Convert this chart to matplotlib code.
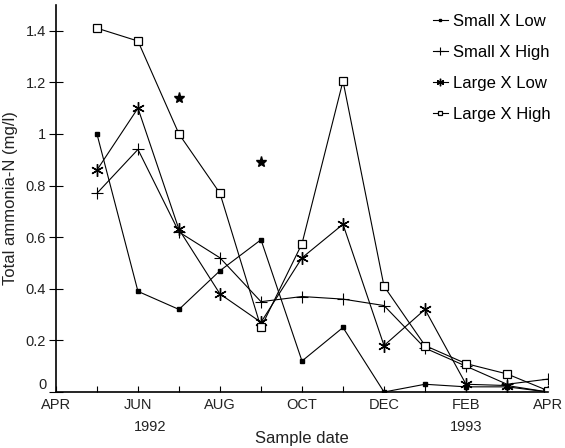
import numpy as np
import matplotlib
matplotlib.use("Agg")
import matplotlib.pyplot as plt

plt.rcParams['font.family'] = ['Liberation Sans', 'DejaVu Sans']

# months since April 1992 (May 1992 = 1 ... April 1993 = 12)
months = np.arange(1, 13)
month_labels = ["APR", "", "JUN", "", "AUG", "", "OCT", "", "DEC", "", "FEB", "", "APR"]

small_low = [1.0, 0.39, 0.32, 0.47, 0.59, 0.12, 0.25, 0.0, 0.03, 0.02, 0.02, 0.0]
small_high = [0.77, 0.94, 0.62, 0.52, 0.35, 0.37, 0.36, 0.335, 0.17, 0.10, 0.03, 0.05]
large_low = [0.86, 1.10, 0.63, 0.38, 0.27, 0.52, 0.65, 0.18, 0.32, 0.03, 0.025, 0.0]
large_high = [1.41, 1.36, 1.0, 0.77, 0.25, 0.575, 1.205, 0.41, 0.18, 0.11, 0.07, 0.005]

# significance stars
star_x = [3, 5]
star_y = [1.14, 0.89]

ytick_vals = [0, 0.2, 0.4, 0.6, 0.8, 1.0, 1.2, 1.4]
ytick_labels = ["0", "0.2", "0.4", "0.6", "0.8", "1", "1.2", "1.4"]


def draw_chart():
    fig = plt.figure(figsize=(5.65, 4.48), dpi=100)
    ax = fig.add_axes([0.099, 0.125, 0.871, 0.864])

    lw = 0.8
    ax.plot(months, small_low, color='black', lw=lw, marker='s', ms=3,
            mfc='black', label='Small X Low')
    ax.plot(months, small_high, color='black', lw=lw, marker='+', ms=9,
            mew=0.8, label='Small X High')
    ax.plot(months, large_low, color='black', lw=lw, marker=(6, 2, 0), ms=9,
            mew=1.0, label='Large X Low')
    ax.plot(months, large_high, color='black', lw=lw, marker='s', ms=6,
            mfc='white', mew=0.9, label='Large X High')
    ax.plot(star_x, star_y, ls='none', marker='*', ms=8, color='black')

    ax.set_xlim(0, 12)
    ax.set_ylim(0, 1.5)
    ax.set_xticks(np.arange(13))
    ax.set_xticklabels(month_labels, fontsize=10.5, color='#222222')
    ax.set_yticks(ytick_vals)
    ax.set_yticklabels(ytick_labels, fontsize=10.5, color='#222222')
    ax.get_yticklabels()[0].set_va('bottom')
    ax.tick_params(axis='x', direction='in', length=4, width=0.8, pad=4)
    ax.tick_params(axis='y', direction='inout', length=10, width=0.8, pad=2)

    for side in ['top', 'right']:
        ax.spines[side].set_visible(False)
    ax.spines['left'].set_linewidth(1.2)
    ax.spines['bottom'].set_linewidth(1.2)

    ax.set_ylabel("Total ammonia-N (mg/l)", fontsize=12, color='#222222', labelpad=6)
    ax.set_xlabel("Sample date", fontsize=12, color='#222222', labelpad=14)
    ax.text(2.3, -0.135, "1992", ha='center', va='center',
            fontsize=10.5, color='#222222', clip_on=False)
    ax.text(10.0, -0.135, "1993", ha='center', va='center',
            fontsize=10.5, color='#222222', clip_on=False)

    ax.legend(loc='upper right', bbox_to_anchor=(1.035, 1.015), frameon=False,
              fontsize=12, handlelength=0.9, handletextpad=0.3,
              labelspacing=0.95, markerscale=0.6)

    plt.savefig('out.png', dpi=100)


if __name__ == '__main__':
    draw_chart()
